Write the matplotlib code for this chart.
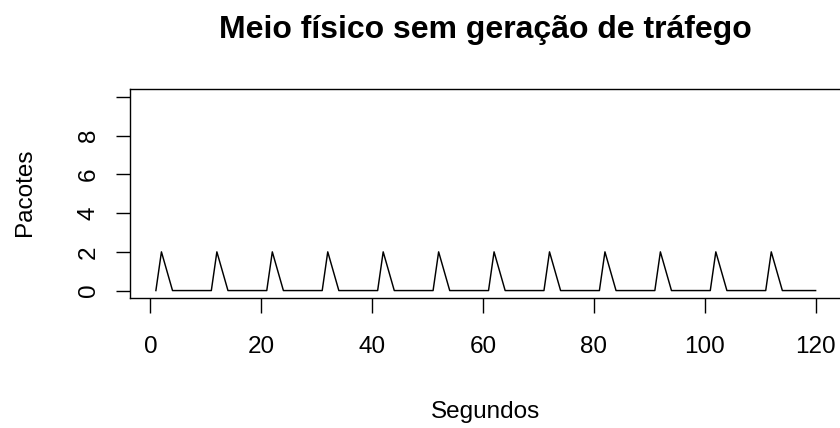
import numpy as np
import matplotlib.pyplot as plt

plt.rcParams['font.family'] = ['Liberation Sans', 'DejaVu Sans']

# packets counted per second
segundos = list(range(1, 121))
pacotes = [
    0, 2, 1, 0, 0, 0, 0, 0, 0, 0,
    0, 2, 1, 0, 0, 0, 0, 0, 0, 0,
    0, 2, 1, 0, 0, 0, 0, 0, 0, 0,
    0, 2, 1, 0, 0, 0, 0, 0, 0, 0,
    0, 2, 1, 0, 0, 0, 0, 0, 0, 0,
    0, 2, 1, 0, 0, 0, 0, 0, 0, 0,
    0, 2, 1, 0, 0, 0, 0, 0, 0, 0,
    0, 2, 1, 0, 0, 0, 0, 0, 0, 0,
    0, 2, 1, 0, 0, 0, 0, 0, 0, 0,
    0, 2, 1, 0, 0, 0, 0, 0, 0, 0,
    0, 2, 1, 0, 0, 0, 0, 0, 0, 0,
    0, 2, 1, 0, 0, 0, 0, 0, 0, 0,
]
x_ticks = [0, 20, 40, 60, 80, 100, 120]
y_ticks = [0, 2, 4, 6, 8, 10]
y_tick_labels = ['0', '2', '4', '6', '8', '']

W, H = 840, 428
fig = plt.figure(figsize=(W / 100, H / 100), dpi=100)
left, right, top, bottom = 129.5, 842, 89.3, 298.3
ax = fig.add_axes([left / W, 1 - bottom / H, (right - left) / W, (bottom - top) / H])

ax.plot(segundos, pacotes, color='black', linewidth=1.05)

# R-style 4% padding around the data range
ax.set_xlim(1 - 0.04 * 119, 120 + 0.04 * 119)
ax.set_ylim(-0.4, 10.4)

ax.set_xticks(x_ticks)
ax.set_yticks(y_ticks)
ax.set_yticklabels(y_tick_labels)
ax.tick_params(axis='x', direction='out', length=10.8, width=1.0, pad=16, labelsize=17.5)
ax.tick_params(axis='y', direction='out', length=10.3, width=1.0, pad=11, labelsize=17.5,
               labelrotation=90)
for lbl in ax.get_yticklabels():
    lbl.set_va('center')

for s in ax.spines.values():
    s.set_linewidth(1.0)

ax.set_xlabel('Segundos', fontsize=17.5)
ax.xaxis.set_label_coords(0.5, (bottom - 412) / (bottom - top))
ax.xaxis.label.set_va('center')
ax.set_ylabel('Pacotes', fontsize=17.5)
ax.yaxis.set_label_coords((25 - left) / (right - left), (bottom - 192) / (bottom - top))
ax.yaxis.label.set_va('center')

fig.text((left + right) / 2 / W, 1 - 38 / H, 'Meio físico sem geração de tráfego',
         ha='center', va='baseline', fontsize=23, fontweight='bold')

fig.savefig('out.png', dpi=100)
